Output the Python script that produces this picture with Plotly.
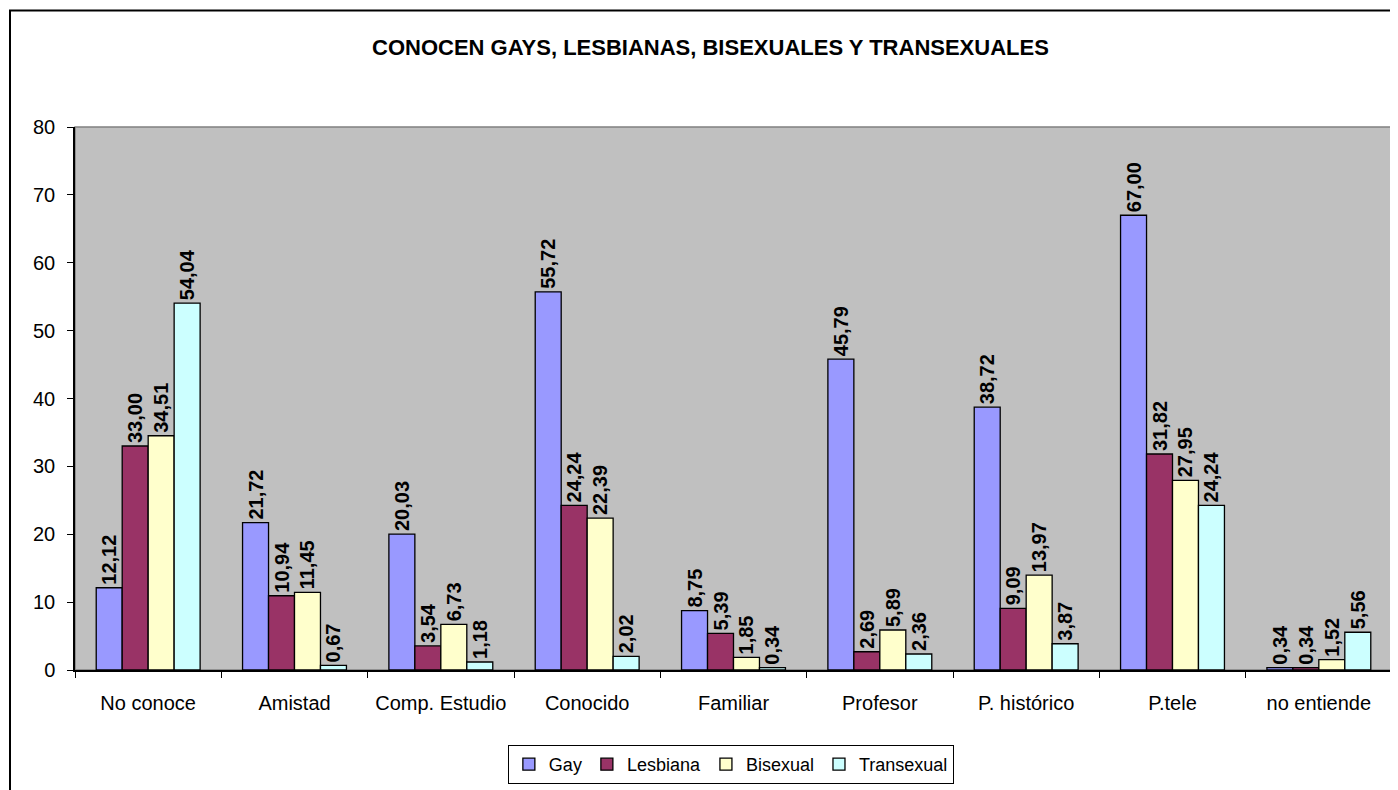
import plotly.graph_objects as go

categories = ["No conoce", "Amistad", "Comp. Estudio", "Conocido", "Familiar",
              "Profesor", "P. histórico", "P.tele", "no entiende"]
gay = [12.12, 21.72, 20.03, 55.72, 8.75, 45.79, 38.72, 67.00, 0.34]
lesbiana = [33.00, 10.94, 3.54, 24.24, 5.39, 2.69, 9.09, 31.82, 0.34]
bisexual = [34.51, 11.45, 6.73, 22.39, 1.85, 5.89, 13.97, 27.95, 1.52]
transexual = [54.04, 0.67, 1.18, 2.02, 0.34, 2.36, 3.87, 24.24, 5.56]
y_ticks = [0, 10, 20, 30, 40, 50, 60, 70, 80]

series = [("Gay", gay, "#9999FF"), ("Lesbiana", lesbiana, "#993366"),
          ("Bisexual", bisexual, "#FFFFCC"), ("Transexual", transexual, "#CCFFFF")]

FONT = "Liberation Sans, Arial"
fig = go.Figure()
for name, vals, color in series:
    fig.add_trace(go.Bar(
        x=categories, y=vals, name=name,
        marker=dict(color=color, line=dict(color="black", width=1.3)),
        text=[f"{v:.2f}".replace(".", ",") for v in vals],
        textposition="outside", textangle=-90, cliponaxis=False,
        constraintext="none",
        textfont=dict(family=FONT, size=20, color="black", weight="bold"),
    ))

W, H = 1390, 782
fig.update_layout(
    width=W, height=H,
    margin=dict(l=67, r=6, t=119, b=118, pad=0),
    paper_bgcolor="white", plot_bgcolor="#C0C0C0",
    barmode="group", bargap=0.29, bargroupgap=0,
    font=dict(family=FONT, size=20, color="black"),
    title=dict(text="<b>CONOCEN GAYS, LESBIANAS, BISEXUALES Y TRANSEXUALES</b>",
               x=0.4825, xref="paper", xanchor="center", y=1 - 39 / H, yanchor="middle",
               font=dict(size=22, family=FONT)),
    showlegend=True,
    legend=dict(orientation="h", x=0.498, xanchor="center", y=-0.174, yanchor="middle",
                bordercolor="black", borderwidth=1, bgcolor="white",
                font=dict(size=18), itemwidth=30, tracegroupgap=0),
    xaxis=dict(showline=True, linecolor="black", linewidth=1.5, ticks="outside",
               ticklen=6, tickcolor="black", tickson="boundaries", showgrid=False,
               tickfont=dict(size=20), ticklabelstandoff=14),
    yaxis=dict(range=[0, 80], tickvals=y_ticks, showline=True, linecolor="black",
               linewidth=1.5, ticks="outside", ticklen=6, tickcolor="black",
               showgrid=False, zeroline=False, tickfont=dict(size=20),
               ticklabelstandoff=8),
)

# plot area border (gray) and outer chart border (black)
fig.add_shape(type="rect", xref="paper", yref="paper", x0=0, y0=0, x1=1, y1=1,
              line=dict(color="#808080", width=1.5), layer="below")
fig.add_shape(type="rect", xref="paper", yref="paper",
              x0=(2 - 67) / 1317, y0=-1.0, x1=1.5, y1=(664 - 2) / 545,
              line=dict(color="black", width=2), layer="above")

fig.write_html("out.html")
